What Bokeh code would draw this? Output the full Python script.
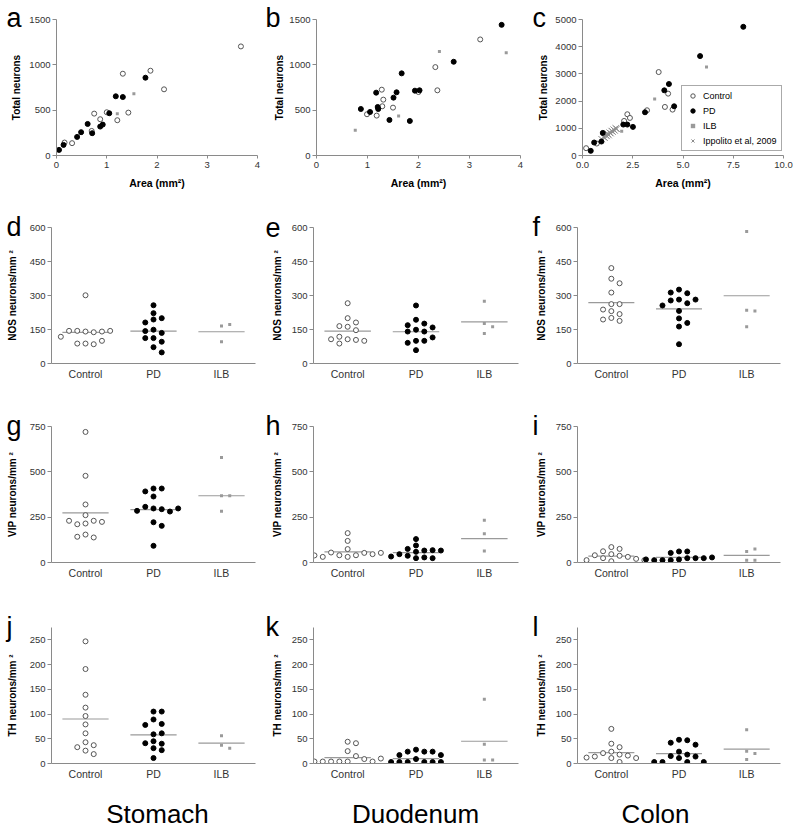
import math
from bokeh.plotting import figure
from bokeh.layouts import column, row
from bokeh.models import Range1d, FixedTicker, Legend, LegendItem, NumeralTickFormatter
from bokeh.core.properties import value
from bokeh.embed import file_html
from bokeh.resources import INLINE

# ---------------- data ----------------
groups = ["Control", "PD", "ILB"]

# scatter: total neurons vs area
sto_ctrl_area = [3.67, 1.32, 1.87, 2.14, 0.75, 1.00, 0.87, 1.21, 1.43, 0.70, 0.16, 0.31]
sto_ctrl_tot = [1203, 902, 935, 730, 462, 477, 400, 389, 473, 271, 143, 136]
sto_pd_area = [1.77, 1.18, 1.32, 1.05, 0.62, 0.49, 0.41, 0.71, 0.87, 0.92, 0.14, 0.05]
sto_pd_tot = [858, 653, 645, 466, 348, 257, 205, 246, 319, 341, 117, 62]
sto_ilb_area = [1.54, 1.21]
sto_ilb_tot = [682, 460]

duo_ctrl_area = [3.21, 2.33, 2.37, 1.28, 1.31, 1.29, 1.50, 1.18, 0.99, 2.00]
duo_ctrl_tot = [1280, 975, 719, 726, 616, 543, 528, 440, 455, 700]
duo_pd_area = [3.63, 2.69, 1.67, 1.17, 1.57, 1.93, 2.02, 1.51, 0.87, 1.05, 1.20, 1.21, 1.43, 1.83]
duo_pd_tot = [1441, 1034, 906, 693, 697, 715, 719, 638, 513, 480, 535, 513, 392, 381]
duo_ilb_area = [2.41, 3.72, 1.61, 0.76]
duo_ilb_tot = [1148, 1133, 436, 279]

col_ctrl_area = [3.79, 4.26, 4.10, 4.48, 3.21, 2.23, 2.36, 2.07, 0.18, 0.71]
col_ctrl_tot = [3068, 2274, 1785, 1687, 1663, 1516, 1381, 1271, 269, 440]
col_pd_area = [8.0, 5.85, 4.30, 4.07, 4.56, 3.11, 2.51, 2.03, 2.23, 1.01, 0.94, 0.58, 0.41]
col_pd_tot = [4731, 3655, 2628, 2396, 1809, 1589, 1051, 1137, 1137, 831, 513, 477, 171]
col_ilb_area = [6.17, 3.59, 1.95]
col_ilb_tot = [3252, 2078, 892]
ipp_area = [0.95, 1.05, 1.10, 1.15, 1.20, 1.25, 1.30, 1.35, 1.40, 1.45, 1.50, 1.55, 1.60, 1.65, 1.70]
ipp_tot = [600, 680, 650, 760, 720, 800, 750, 840, 820, 900, 880, 950, 920, 1000, 980]

# NOS neurons/mm2
nos_sto_ctrl = [301, 141, 138, 144, 141, 144, 144, 118, 88, 85, 88, 100]
nos_sto_pd = [257, 222, 194, 200, 181, 149, 135, 143, 112, 112, 96, 72, 49]
nos_sto_ilb = [165, 172, 96]
nos_sto_mid = [137, 143, 140]
nos_duo_ctrl = [266, 200, 181, 162, 165, 147, 107, 104, 118, 100, 107, 88]
nos_duo_pd = [256, 193, 176, 169, 149, 141, 141, 159, 100, 100, 115, 91, 59]
nos_duo_ilb = [275, 176, 162, 132]
nos_duo_mid = [143, 140, 184]
nos_col_ctrl = [421, 374, 354, 313, 262, 262, 238, 231, 218, 201, 188, 194]
nos_col_pd = [326, 310, 313, 282, 266, 278, 282, 256, 232, 199, 179, 163, 85]
nos_col_ilb = [582, 235, 232, 162]
nos_col_mid = [269, 241, 299]

# VIP neurons/mm2
vip_sto_ctrl = [720, 478, 320, 261, 230, 215, 211, 224, 230, 154, 138, 142]
vip_sto_pd = [408, 408, 392, 364, 298, 294, 307, 281, 285, 298, 222, 202, 92]
vip_sto_ilb = [579, 368, 368, 283]
vip_sto_mid = [274, 292, 368]
vip_duo_ctrl = [162, 119, 74, 40, 40, 53, 55, 31, 46, 31, 53, 39]
vip_duo_pd = [129, 94, 66, 75, 68, 59, 46, 66, 37, 28, 24, 24, 33]
vip_duo_ilb = [233, 158, 64]
vip_duo_mid = [59, 55, 132]
vip_col_ctrl = [85, 75, 62, 46, 37, 31, 40, 24, 20, 13, 7, 13]
vip_col_pd = [61, 61, 53, 17, 24, 13, 24, 13, 24, 13, 28, 17]
vip_col_ilb = [61, 75, 13, 13]
vip_col_mid = [35, 28, 39]

# TH neurons/mm2
th_sto_ctrl = [247, 191, 139, 113, 96, 79, 61, 43, 37, 33, 26, 19]
th_sto_pd = [105, 105, 89, 80, 78, 59, 61, 45, 40, 41, 31, 27, 11]
th_sto_ilb = [56, 37, 31]
th_sto_mid = [90, 58, 41]
th_duo_ctrl = [44, 41, 25, 15, 4, 4, 9, 4, 4, 4, 10, 4]
th_duo_pd = [28, 24, 24, 24, 17, 17, 9, 3, 3, 3, 3, 3, 3]
th_duo_ilb = [130, 39, 7, 7]
th_duo_mid = [12, 10, 45]
th_col_ctrl = [70, 40, 33, 24, 21, 18, 16, 14, 11, 11, 12, 3]
th_col_pd = [48, 47, 42, 38, 24, 18, 15, 11, 14, 3, 3, 3, 3]
th_col_ilb = [68, 25, 20, 8]
th_col_mid = [22, 20, 29]

region_names = ["Stomach", "Duodenum", "Colon"]
panel_letters = [["a", "b", "c"], ["d", "e", "f"], ["g", "h", "i"], ["j", "k", "l"]]
row_titles = ["Total neurons", "NOS neurons/mm ²", "VIP neurons/mm ²", "TH neurons/mm ²"]

# ---------------- style ----------------
FONT = "Liberation Sans"
AX = "#8a8a8a"
TXT = "#333333"
GRAY = "#9a9a9a"
FH = 136          # pixel height of the data area (axis length)
EXT = 14          # extra frame height above the axis top (room for panel letters)
LETTER_PX = 27
REGION_PX = 26


def base_fig(w, h, l, r, t, b, xr, ymax):
    p = figure(width=w, height=h, min_border_left=l, min_border_right=r,
               min_border_top=t - EXT, min_border_bottom=b, x_range=xr,
               y_range=Range1d(0, ymax * (FH + EXT) / FH),
               output_backend="svg", toolbar_location=None, tools="")
    p.grid.visible = False
    p.outline_line_color = None
    p.yaxis.bounds = (0, ymax)
    for ax in p.axis:
        ax.axis_line_color = AX
        ax.major_tick_line_color = AX
        ax.minor_tick_line_color = None
        ax.major_tick_out = 4
        ax.major_tick_in = 0
        ax.major_label_standoff = 2
        ax.major_label_text_font = FONT
        ax.major_label_text_color = TXT
        ax.major_label_text_font_size = "9.5px"
    return p


def text_fig(w, h, y0=0, y1=None):
    p = figure(width=w, height=h, x_range=Range1d(0, w), y_range=Range1d(y0, h if y1 is None else y1),
               min_border=0, x_axis_location=None, y_axis_location=None,
               output_backend="svg", toolbar_location=None, tools="")
    p.grid.visible = False
    p.outline_line_color = None
    return p


def side_fig(w, h, t, b, letter, lx, ldy, title, tx):
    """narrow figure holding the panel letter and the rotated y-axis title.
    Its frame is aligned with the panel frame of the same row, so the y range is
    expressed in pixels from the bottom of the row."""
    p = text_fig(w, h, b, h - (t - EXT))
    p.text(x=[lx], y=[h - (t + ldy - 0.35 * LETTER_PX)], text=[letter], text_font=value(FONT),
           text_font_size=f"{LETTER_PX}px", text_color="black", text_align="left", text_baseline="middle")
    p.text(x=[tx], y=[h - (t + FH / 2)], text=[title], angle=math.pi / 2, text_font=value(FONT),
           text_font_size="10px", text_font_style="bold", text_color="black",
           text_align="center", text_baseline="middle")
    return p


def swarm(vals, center, ypx, xpx, d=6.2, step=8.3):
    placed = []
    xs = []
    cands = [0] + [s * i for i in range(1, 12) for s in (1, -1)]
    for v in vals:
        y = v * ypx
        for c in cands:
            x = c * step
            if all((x - px) ** 2 + (y - py) ** 2 >= d * d for px, py in placed):
                break
        placed.append((x, y))
        xs.append(center + x / xpx)
    return xs


def scatter_panel(ctrl, pd, ilb, ymax, yticks, xmax, xticks, geom, h, t, b, fmt=None, legend=False, ipp=None):
    l, fw, r = geom
    w = l + fw + r
    p = base_fig(w, h, l, r, t, b, Range1d(0, xmax), ymax)
    p.yaxis.ticker = FixedTicker(ticks=yticks)
    p.xaxis.ticker = FixedTicker(ticks=xticks)
    p.xaxis.major_tick_out = 3
    p.xaxis.major_label_standoff = 3
    if fmt:
        p.xaxis.formatter = NumeralTickFormatter(format=fmt)
    p.xaxis.axis_label = "Area (mm²)"
    p.xaxis.axis_label_text_font = FONT
    p.xaxis.axis_label_text_font_size = "10.5px"
    p.xaxis.axis_label_text_font_style = "bold"
    p.xaxis.axis_label_text_color = "black"
    p.xaxis.axis_label_standoff = 6
    r_ipp = None
    if ipp is not None:
        r_ipp = p.scatter(ipp[0], ipp[1], marker="x", size=9, line_color="#8c8c8c", line_width=1)
    r_ilb = p.scatter(ilb[0], ilb[1], marker="square", size=3, fill_color=GRAY, line_color=None)
    r_c = p.scatter(ctrl[0], ctrl[1], marker="circle", size=5, fill_color="white", line_color="#555555", line_width=1)
    r_p = p.scatter(pd[0], pd[1], marker="circle", size=5, fill_color="black", line_color="black")
    if legend:
        lg = Legend(items=[LegendItem(label="Control", renderers=[r_c]),
                           LegendItem(label="PD", renderers=[r_p]),
                           LegendItem(label="ILB", renderers=[r_ilb]),
                           LegendItem(label="Ippolito et al, 2009", renderers=[r_ipp])],
                    location=(99, 4), orientation="vertical",
                    glyph_width=13, glyph_height=11, label_standoff=4, spacing=4,
                    padding=4, margin=0, label_text_font=FONT, label_text_font_size="9px",
                    label_text_color="black", label_height=11,
                    border_line_color="#555555", border_line_width=1,
                    background_fill_color="white", background_fill_alpha=1)
        p.add_layout(lg)
    return p


def dot_panel(ctrl, pd, ilb, mid, ymax, yticks, geom, h, t, b):
    l, fw, r = geom
    w = l + fw + r
    p = base_fig(w, h, l, r, t, b, Range1d(0.5, 3.5), ymax)
    p.yaxis.ticker = FixedTicker(ticks=yticks)
    p.xaxis.ticker = FixedTicker(ticks=[1, 2, 3])
    p.xaxis.major_label_overrides = {1: groups[0], 2: groups[1], 3: groups[2]}
    p.xaxis.major_tick_line_color = None
    p.xaxis.major_tick_out = 0
    p.xaxis.major_label_standoff = 4
    p.xaxis.major_label_text_font_size = "10.5px"
    ypx = FH / ymax
    xpx = fw / 3.0
    for i, m in enumerate(mid):
        p.segment(x0=[i + 1 - 0.34], x1=[i + 1 + 0.34], y0=[m], y1=[m], line_color=GRAY, line_width=1.2)
    p.scatter(swarm(ilb, 3, ypx, xpx), ilb, marker="square", size=3, fill_color=GRAY, line_color=None)
    p.scatter(swarm(ctrl, 1, ypx, xpx), ctrl, marker="circle", size=5, fill_color="white",
              line_color="#555555", line_width=1)
    p.scatter(swarm(pd, 2, ypx, xpx), pd, marker="circle", size=5, fill_color="black", line_color="black")
    return p


# ---------------- layout geometry ----------------
SIDE_W = [26, 24, 24]            # width of letter/title strip per column
LETTER_X = [6, 3, 4]
TITLE_X = [[16, 17, 15], [12, 15, 13], [12, 15, 13], [12, 15, 13]]
ROW_GEOM = [(205, 19, 50), (200, 22, 42), (200, 21, 43), (185, 22, 27)]   # height, top, bottom
LETTER_DY = [8, 9, 9, 9]
SCAT_GEOM = [(27, 204, 5), (27, 207, 8), (30, 201, 17)]   # left border, frame width, right border
DOT_GEOM = [(23, 206, 7), (27, 205, 10), (24, 204, 20)]

rows = []

# ---- row 1 (scatter) ----
h, t, b = ROW_GEOM[0]
pa = scatter_panel((sto_ctrl_area, sto_ctrl_tot), (sto_pd_area, sto_pd_tot), (sto_ilb_area, sto_ilb_tot),
                   1500, [0, 500, 1000, 1500], 4, [0, 1, 2, 3, 4], SCAT_GEOM[0], h, t, b)
pb = scatter_panel((duo_ctrl_area, duo_ctrl_tot), (duo_pd_area, duo_pd_tot), (duo_ilb_area, duo_ilb_tot),
                   1500, [0, 500, 1000, 1500], 4, [0, 1, 2, 3, 4], SCAT_GEOM[1], h, t, b)
pc = scatter_panel((col_ctrl_area, col_ctrl_tot), (col_pd_area, col_pd_tot), (col_ilb_area, col_ilb_tot),
                   5000, [0, 1000, 2000, 3000, 4000, 5000], 10, [0, 2.5, 5, 7.5, 10], SCAT_GEOM[2], h, t, b,
                   fmt="0.0", legend=True, ipp=(ipp_area, ipp_tot))
cells = []
for ci, pp in enumerate([pa, pb, pc]):
    cells.append(side_fig(SIDE_W[ci], h, t, b, panel_letters[0][ci], LETTER_X[ci], LETTER_DY[0],
                          row_titles[0], TITLE_X[0][ci]))
    cells.append(pp)
rows.append(row(*cells, spacing=0))

# ---- rows 2-4 (dot plots) ----
specs = [
    (600, [0, 150, 300, 450, 600],
     [(nos_sto_ctrl, nos_sto_pd, nos_sto_ilb, nos_sto_mid),
      (nos_duo_ctrl, nos_duo_pd, nos_duo_ilb, nos_duo_mid),
      (nos_col_ctrl, nos_col_pd, nos_col_ilb, nos_col_mid)]),
    (750, [0, 250, 500, 750],
     [(vip_sto_ctrl, vip_sto_pd, vip_sto_ilb, vip_sto_mid),
      (vip_duo_ctrl, vip_duo_pd, vip_duo_ilb, vip_duo_mid),
      (vip_col_ctrl, vip_col_pd, vip_col_ilb, vip_col_mid)]),
    (275, [0, 50, 100, 150, 200, 250],
     [(th_sto_ctrl, th_sto_pd, th_sto_ilb, th_sto_mid),
      (th_duo_ctrl, th_duo_pd, th_duo_ilb, th_duo_mid),
      (th_col_ctrl, th_col_pd, th_col_ilb, th_col_mid)]),
]

for si, (ymax, yticks, datas) in enumerate(specs):
    ri = si + 1
    h, t, b = ROW_GEOM[ri]
    cells = []
    for ci in range(3):
        cells.append(side_fig(SIDE_W[ci], h, t, b, panel_letters[ri][ci], LETTER_X[ci], LETTER_DY[ri],
                              row_titles[ri], TITLE_X[ri][ci]))
        c, pdv, il, md = datas[ci]
        cells.append(dot_panel(c, pdv, il, md, ymax, yticks, DOT_GEOM[ci], h, t, b))
    rows.append(row(*cells, spacing=0))

# ---- region names ----
REG_W, REG_H = 800, 41
REG_BASE = 8          # baseline height above the page bottom
reg = text_fig(REG_W, REG_H)
reg.text(x=[157, 415, 655], y=[REG_BASE + 0.35 * REGION_PX] * 3, text=region_names, text_font=value(FONT),
         text_font_size=f"{REGION_PX}px", text_color="black", text_align="center", text_baseline="middle")
rows.append(reg)

layout = column(*rows, spacing=0)

open("out.html", "w").write(file_html(layout, INLINE))
